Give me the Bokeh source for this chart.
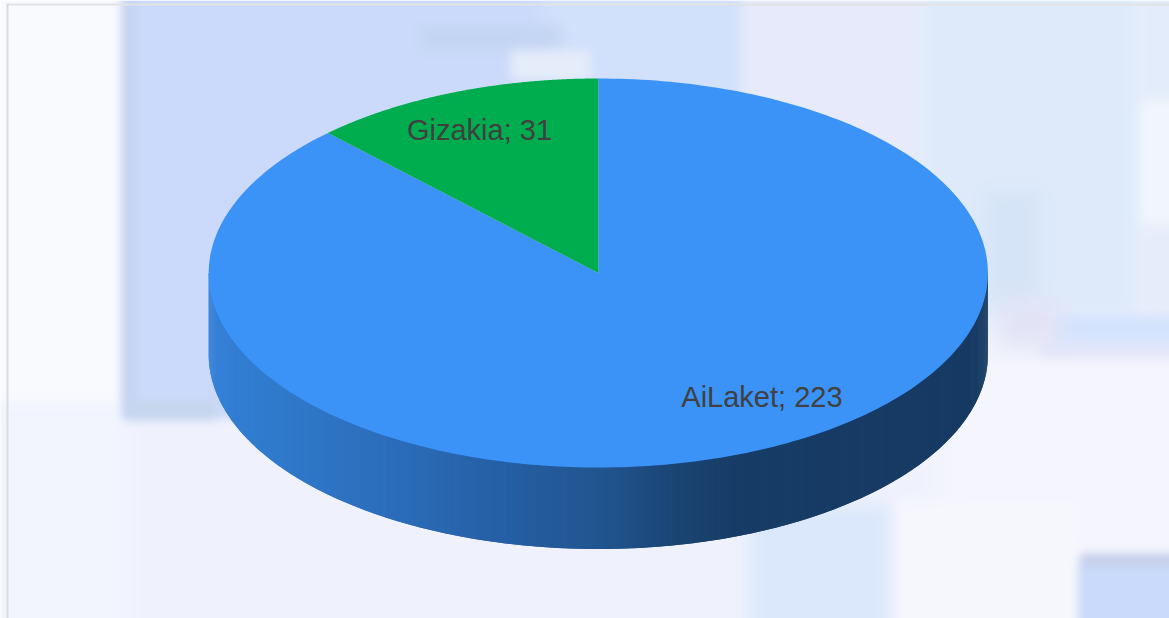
import numpy as np
from bokeh.plotting import figure
from bokeh.models import Range1d
from bokeh.core.properties import value
from bokeh.embed import file_html
from bokeh.resources import INLINE

categories = ["AiLaket", "Gizakia"]
values = [223, 31]
colors = ["#3b93f8", "#00ad4e"]
label_font = "Liberation Sans"

W, H = 1169, 618
CX, CY, RX, RY, DEPTH = 597.8, 272.5, 389.6, 194.5, 81.5


def Y(y):
    return H - np.asarray(y, dtype=float)


# soft-edged patches of the blurred picture behind the chart
bg_base = "#eff1fd"
bg_patches = [
    (-40, -40, 118, 405, "#f9fafe", 10),
    (-40, 405, 130, 640, "#f2f5fe", 40),
    (122, -40, 560, 418, "#cbdafa", 6),
    (540, -40, 745, 418, "#d1e0fb", 30),
    (122, 0, 135, 418, "#c6d3f2", 8),
    (125, 400, 215, 420, "#c6d6ee", 8),
    (745, -40, 920, 330, "#e7eafb", 30),
    (920, -40, 1140, 320, "#deeafa", 40),
    (985, 190, 1040, 300, "#d5e4f6", 40),
    (1140, -40, 1210, 100, "#e2ecfa", 30),
    (1140, 100, 1210, 225, "#f1f5fc", 14),
    (1140, 225, 1210, 315, "#e6edfa", 24),
    (1045, 315, 1210, 345, "#d4e3fd", 14),
    (1000, 300, 1060, 350, "#e2e4f6", 40),
    (1040, 345, 1210, 358, "#d9dcf6", 14),
    (940, 358, 1210, 560, "#f5f6fd", 60),
    (420, 25, 560, 50, "#c4d5f3", 24),
    (510, 50, 590, 80, "#e5edfa", 14),
    (750, 505, 890, 640, "#dbe8fb", 30),
    (895, 500, 1080, 640, "#f6f7fd", 20),
    (1078, 562, 1210, 640, "#c9dafa", 8),
    (1080, 553, 1210, 566, "#c6d0ea", 8),
]
side_stops_x = [208, 250, 400, 500, 600, 680, 740, 988]
side_stops_c = ["#3580d8", "#317dd0", "#2b6cb8", "#255fa5", "#215590", "#1a4472", "#173c66", "#173a63"]


def rgb(h):
    return np.array([int(h[i:i + 2], 16) for i in (1, 3, 5)], dtype=float)


def smooth(t):
    t = np.clip(t, 0, 1)
    return t * t * (3 - 2 * t)


def box(a, r, axis):
    pad = [(0, 0)] * a.ndim
    pad[axis] = (r + 1, r)
    c = np.cumsum(np.pad(a, pad, mode="edge"), axis=axis)
    return (np.take(c, range(2 * r + 1, c.shape[axis]), axis=axis)
            - np.take(c, range(0, c.shape[axis] - 2 * r - 1), axis=axis)) / (2 * r + 1)


xx, yy = np.meshgrid(np.arange(W) + 0.5, np.arange(H) + 0.5)
canvas = np.ones((H, W, 3)) * rgb(bg_base)
for x0, y0, x1, y1, c, s in bg_patches:
    a = smooth((xx - x0) / s + .5) * smooth((x1 - xx) / s + .5) * smooth((yy - y0) / s + .5) * smooth((y1 - yy) / s + .5)
    canvas = canvas * (1 - a[..., None]) + rgb(c) * a[..., None]
for _ in range(2):
    canvas = box(box(canvas, 4, 0), 4, 1)
# chart frame lines of the screenshot
canvas[3:5, 6:] = rgb("#e1e2e4")
canvas[3:, 6:8] = rgb("#d9dbdc")
img = np.zeros((H, W), dtype=np.uint32)
view = img.view(np.uint8).reshape((H, W, 4))
view[..., :3] = canvas[::-1].round().astype(np.uint8)
view[..., 3] = 255

p = figure(width=W, height=H, output_backend="svg", toolbar_location=None,
           x_range=Range1d(0, W), y_range=Range1d(0, H), min_border=0)
p.axis.visible = False
p.grid.visible = False
p.outline_line_color = None
p.background_fill_color = None
p.border_fill_color = None

p.image_rgba(image=[img], x=0, y=0, dw=W, dh=H)

# side wall of the pie: overlapping strips painted left to right, finer at the ends
edges = CX - RX * np.cos(np.linspace(0, np.pi, 520))
st_rgb = np.array([rgb(c) for c in side_stops_c])


def wall(x):
    return CY + RY * np.sqrt(np.clip(1 - ((x - CX) / RX) ** 2, 0, 1)) + DEPTH


sx, sy, sc = [], [], []
n = len(edges) - 1
for i in range(n):
    x0, x2 = edges[i], edges[min(i + 2, n)]
    sx.append([x0, x2, x2, x0])
    sy.append(Y([CY, CY, wall(x2), wall(x0)]))
    c = [np.interp((x0 + edges[i + 1]) / 2, side_stops_x, st_rgb[:, k]) for k in range(3)]
    sc.append("#%02x%02x%02x" % tuple(int(round(v)) for v in c))
p.patches(sx, sy, fill_color=sc, line_color=None)

# top face: slices run clockwise from twelve o'clock, last value ends there
total = sum(values)
angles = [v / total * 2 * np.pi for v in values]
start = 0.0
for ang, col in zip(angles, colors):
    t = np.linspace(start, start + ang, 300)
    x = np.r_[CX, CX + RX * np.sin(t), CX]
    y = np.r_[CY, CY - RY * np.cos(t), CY]
    p.patch(x, Y(y), fill_color=col, line_color=None)
    start += ang

label_pos = [(0.42, 0.64), (-0.305, -0.733)]
for cat, v, (fx, fy) in zip(categories, values, label_pos):
    p.text([CX + fx * RX], Y([CY + fy * RY]), text=[f"{cat}; {v}"], text_align="center",
           text_baseline="middle", text_font=value(label_font), text_font_size="29px",
           text_color="#404040")

open("out.html", "w").write(file_html(p, INLINE))
